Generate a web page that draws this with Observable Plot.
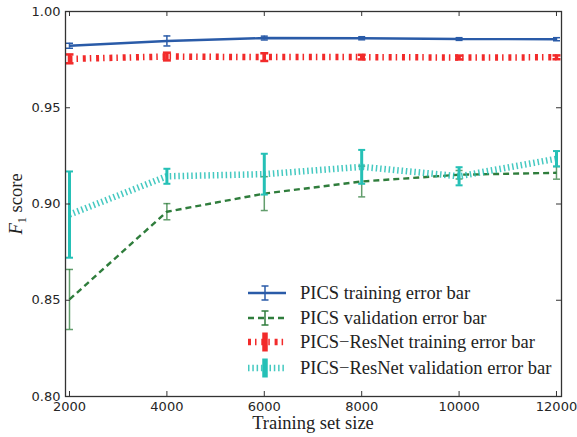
<!DOCTYPE html>
<html><head><meta charset="utf-8">
<script src="https://cdn.jsdelivr.net/npm/d3@7"></script>
<script src="https://cdn.jsdelivr.net/npm/@observablehq/plot@0.6"></script>
<style>body{margin:0;background:#fff} #chart{width:577px;height:437px}</style>
</head><body><div id="chart"></div>
<script>
// ---- data ----
const sizes = [2000, 4000, 6000, 8000, 10000, 12000];
const picsTrain    = [0.9822, 0.9847, 0.9862, 0.9861, 0.9857, 0.9856];
const picsTrainErr = [0.0013, 0.0026, 0.0010, 0.0008, 0.0007, 0.0008];
const picsVal      = [0.8504, 0.8960, 0.9054, 0.9117, 0.9152, 0.9162];
const picsValErr   = [0.0156, 0.0042, 0.0088, 0.0080, 0.0022, 0.0033];
const resTrain     = [0.9754, 0.9766, 0.9763, 0.9763, 0.9761, 0.9762];
const resTrainErr  = [0.0023, 0.0020, 0.0020, 0.0012, 0.0010, 0.0010];
const resVal       = [0.8945, 0.9144, 0.9155, 0.9193, 0.9144, 0.9235];
const resValErr    = [0.0224, 0.0039, 0.0106, 0.0088, 0.0047, 0.0040];
const xTicks = [2000, 4000, 6000, 8000, 10000, 12000];
const yTicks = [0.80, 0.85, 0.90, 0.95, 1.00];
const seriesNames = ["PICS training error bar", "PICS validation error bar",
  "PICS\u2212ResNet training error bar", "PICS\u2212ResNet validation error bar"];
const colors = ["#2a5ba8", "#2f7d3c", "#f22a2a", "#25c0b6"];

// ---- layout ----
const W = 577, H = 437, mL = 65, mR = 16, mT = 11, mB = 41;
const pw = W - mL - mR, ph = H - mT - mB;

const rows = (vals, errs) => sizes.map((x, i) => ({x, y: vals[i], lo: vals[i] - errs[i], hi: vals[i] + errs[i]}));
const capSym = {draw(ctx, size) { const r = Math.sqrt(size / Math.PI); ctx.moveTo(-r, 0); ctx.lineTo(r, 0); }};

function errMarks(data, color, bw, cw, capR, op = 1) {
  return [
    Plot.ruleX(data, {x: "x", y1: "lo", y2: "hi", stroke: color, strokeWidth: bw, strokeOpacity: op, strokeLinecap: "butt"}),
    Plot.dot(data, {x: "x", y: "lo", symbol: capSym, r: capR, stroke: color, strokeWidth: cw, fill: "none", strokeOpacity: op, strokeLinecap: "butt"}),
    Plot.dot(data, {x: "x", y: "hi", symbol: capSym, r: capR, stroke: color, strokeWidth: cw, fill: "none", strokeOpacity: op, strokeLinecap: "butt"})
  ];
}

const dPT = rows(picsTrain, picsTrainErr);
const dPV = rows(picsVal, picsValErr);
const dRT = rows(resTrain, resTrainErr);
const dRV = rows(resVal, resValErr);

const dash = ["none", "6,4", "3,4,1.5,4.8", "1.5,2.8"];
const lw = [2.4, 2.4, 6.5, 6.5];
const lineOpts = {strokeLinecap: "butt", strokeLinejoin: "miter"};

const plot = Plot.plot({
  width: W, height: H,
  marginLeft: mL, marginRight: mR, marginTop: mT, marginBottom: mB,
  style: {fontFamily: "DejaVu Sans", fontSize: "13px", color: "#262626", background: "#fff"},
  x: {domain: [1918, 12103]},
  y: {domain: [0.80, 1.00]},
  marks: [
    Plot.line(dPT, {x: "x", y: "y", stroke: colors[0], strokeWidth: lw[0], ...lineOpts}),
    ...errMarks(dPT, colors[0], 1.5, 1.5, 3.5),
    Plot.line(dPV, {x: "x", y: "y", stroke: colors[1], strokeWidth: lw[1], strokeDasharray: dash[1], ...lineOpts}),
    ...errMarks(dPV, colors[1], 1.5, 1.5, 3.5, 0.75),
    Plot.line(dRT, {x: "x", y: "y", stroke: colors[2], strokeWidth: lw[2], strokeDasharray: dash[2], ...lineOpts}),
    ...errMarks(dRT, colors[2], 3.5, 2.5, 4),
    Plot.line(dRV, {x: "x", y: "y", stroke: colors[3], strokeWidth: lw[3], strokeDasharray: dash[3], strokeOpacity: 0.85, ...lineOpts}),
    ...errMarks(dRV, colors[3], 3, 2, 3.5),
    Plot.frame({stroke: "#333", strokeWidth: 1.3}),
    Plot.tickY(yTicks, {y: d => d, insetRight: pw - 5, stroke: "#333"}),
    Plot.tickY(yTicks, {y: d => d, insetLeft: pw - 5, stroke: "#333"}),
    Plot.tickX(xTicks, {x: d => d, insetTop: ph - 5, stroke: "#333"}),
    Plot.tickX(xTicks, {x: d => d, insetBottom: ph - 5, stroke: "#333"}),
    Plot.axisY({ticks: yTicks, tickFormat: ".2f", tickSize: 0, tickPadding: 5, label: null}),
    Plot.axisX({ticks: xTicks, tickFormat: d => String(d), tickSize: 0, tickPadding: 5, label: null})
  ]
});
document.getElementById("chart").appendChild(plot);

// ---- axis labels & legend ----
const svg = d3.select(plot);
const serif = "Liberation Serif, Times New Roman, serif";
const fs = 18.5;
svg.append("text").attr("x", mL + pw / 2).attr("y", 429).attr("text-anchor", "middle")
  .attr("font-family", serif).attr("font-size", fs).attr("fill", "#222").text("Training set size");
const yl = svg.append("text").attr("transform", "translate(22,204) rotate(-90)").attr("text-anchor", "middle")
  .attr("font-family", serif).attr("font-size", fs).attr("fill", "#222");
yl.append("tspan").attr("font-style", "italic").text("F");
yl.append("tspan").attr("font-size", 12.5).attr("dy", 3.5).text("1");
yl.append("tspan").attr("dy", -3.5).text(" score");

const legY = [293, 318, 342, 368];
const lx0 = 248, lx1 = 286, lxc = 265;
const legBar = [[7, 1.5, 3.5], [7, 1.5, 3.5], [9.5, 5.5, 0], [9.5, 5.5, 0]];
const g = svg.append("g");
seriesNames.forEach((name, i) => {
  const y = legY[i];
  g.append("line").attr("x1", lx0).attr("x2", lx1).attr("y1", y).attr("y2", y)
    .attr("stroke", colors[i]).attr("stroke-width", lw[i]).attr("stroke-dasharray", dash[i])
    .attr("stroke-linecap", "butt").attr("stroke-opacity", i === 3 ? 0.85 : 1);
  const [h, bw, cr] = legBar[i];
  g.append("line").attr("x1", lxc).attr("x2", lxc).attr("y1", y - h).attr("y2", y + h)
    .attr("stroke", colors[i]).attr("stroke-width", bw);
  if (cr > 0) {
    [y - h, y + h].forEach(yy => g.append("line").attr("x1", lxc - cr).attr("x2", lxc + cr)
      .attr("y1", yy).attr("y2", yy).attr("stroke", colors[i]).attr("stroke-width", 1.5));
  }
  g.append("text").attr("x", 300).attr("y", y).attr("dy", "0.35em").attr("text-anchor", "start")
    .attr("font-family", serif).attr("font-size", fs).attr("fill", "#222").text(name);
});
</script>
</body></html>
